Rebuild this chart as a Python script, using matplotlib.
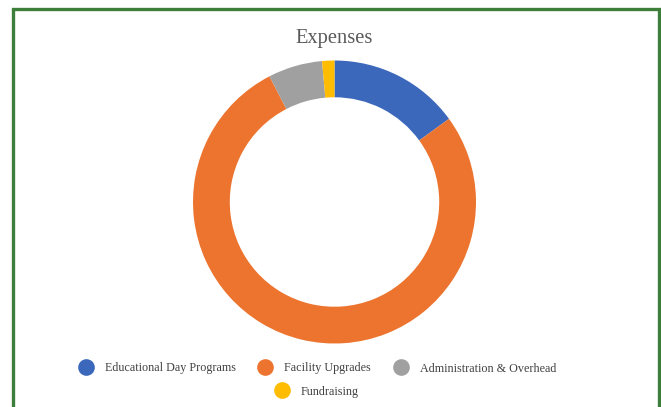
import matplotlib
matplotlib.use("Agg")
import matplotlib.pyplot as plt
from matplotlib.patches import Rectangle
from matplotlib.lines import Line2D

categories = ["Educational Day Programs", "Facility Upgrades", "Administration & Overhead", "Fundraising"]
values = [15.0, 77.4, 6.2, 1.4]
colors = ["#3C68BC", "#EC742F", "#A0A0A0", "#FFBC00"]
title = "Expenses"

W, H = 661, 407
fig = plt.figure(figsize=(W / 100, H / 100), dpi=100)
serif = ["Liberation Serif", "DejaVu Serif"]

# donut: centre px, radius px
cx, cy, r = 334.5, 202.0, 141.5
ax = fig.add_axes([(cx - r) / W, 1 - (cy + r) / H, 2 * r / W, 2 * r / H])
wedges, _ = ax.pie(values, colors=colors, startangle=90, counterclock=False,
                   radius=1.0, wedgeprops=dict(width=0.26, linewidth=0))
ax.set_xlim(-1, 1)
ax.set_ylim(-1, 1)
ax.set_aspect("equal")
ax.axis("off")

fig.text(cx / W, 1 - 43.5 / H, title, ha="center", va="baseline",
         fontsize=14.8, color="#595959", family=serif)

# legend drawn in figure coordinates: (marker centre y, text baseline y)
rows = [(366.5, 371.5, [0, 1, 2], [86, 265, 401]), (390, 395, [3], [282])]
for y, yb, idxs, xs in rows:
    for i, x in zip(idxs, xs):
        fig.add_artist(Line2D([x / W], [1 - y / H], marker="o", markersize=12,
                              color=colors[i], markeredgewidth=0, linestyle="none",
                              transform=fig.transFigure))
        fig.text((x + 19) / W, 1 - yb / H, categories[i], ha="left", va="baseline",
                 fontsize=8.7, color="#404040", family=serif)

# green frame
fig.add_artist(Rectangle((12.5 / W, -0.05), (659 - 12.5) / W, 1.05 - 9 / H,
                         transform=fig.transFigure, fill=False,
                         edgecolor="#3D7F3A", linewidth=2.4))

fig.savefig("out.png", dpi=100)
